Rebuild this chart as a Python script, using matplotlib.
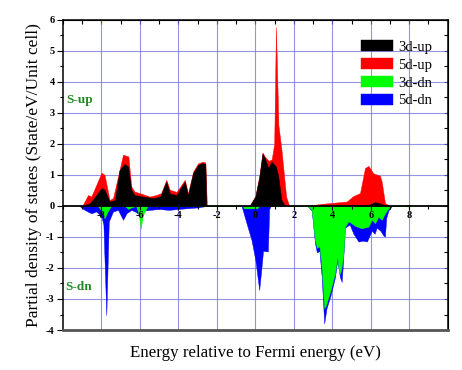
import numpy as np
import matplotlib
matplotlib.use('Agg')
import matplotlib.pyplot as plt
from matplotlib.ticker import MultipleLocator

# spin-up, 3d (black)
e_3d_up = [-9.0, -8.6, -8.27, -8.0, -7.84, -7.58, -7.3, -7.06, -6.8, -6.62, -6.45, -6.28,
           -5.84, -5.3, -4.95, -4.63, -4.45, -4.1, -3.84, -3.67, -3.5, -3.24, -2.98, -2.75, -2.6, -2.55,
           -0.3, 0.0, 0.2, 0.37, 0.49, 0.67, 0.84, 1.07, 1.19, 1.36, 1.54,
           5.6, 6.0, 6.22, 6.5, 6.8]
dos_3d_up = [0.0, 0.09, 0.35, 0.57, 0.52, 0.14, 0.19, 1.16, 1.35, 1.27, 0.52, 0.35,
             0.3, 0.25, 0.3, 0.78, 0.4, 0.35, 0.62, 0.78, 0.35, 1.05, 1.32, 1.38, 1.35, 0.0,
             0.0, 0.3, 0.9, 1.68, 1.54, 1.22, 1.43, 1.27, 0.95, 0.19, 0.0,
             0.0, 0.06, 0.12, 0.08, 0.0]

# spin-up, 5d (red)
e_5d_up = [-9.0, -8.7, -8.53, -8.0, -7.84, -7.58, -7.4, -6.88, -6.6, -6.45, -6.28, -6.0,
           -5.5, -5.15, -4.9, -4.63, -4.45, -4.1, -3.84, -3.67, -3.5, -3.24, -2.98, -2.75, -2.6, -2.52,
           -0.3, 0.0, 0.2, 0.37, 0.5, 0.7, 0.85, 0.98, 1.07, 1.2, 1.36, 1.6, 1.76,
           2.7, 3.36, 4.05, 4.75, 5.1, 5.44, 5.7, 5.88, 6.13, 6.48, 6.57, 6.74, 7.0, 8.0, 8.1]
dos_5d_up = [0.0, 0.35, 0.3, 1.07, 1.0, 0.19, 0.25, 1.65, 1.59, 0.62, 0.46, 0.41,
             0.3, 0.35, 0.41, 0.84, 0.52, 0.45, 0.68, 0.84, 0.4, 1.1, 1.37, 1.42, 1.4, 0.0,
             0.0, 0.32, 0.95, 1.72, 1.58, 1.45, 1.5, 2.0, 5.76, 2.6, 1.8, 0.3, 0.0,
             0.0, 0.06, 0.1, 0.14, 0.32, 0.41, 1.22, 1.29, 1.05, 0.97, 0.78, 0.09, 0.0, 0.02, 0.0]

# spin-down, 5d (blue)
e_5d_dn = [-9.15, -8.88, -8.53, -8.27, -8.0, -7.9, -7.75, -7.62, -7.4, -7.14, -6.88, -6.7,
           -6.45, -6.2, -6.0, -5.8, -5.5, -5.0, -4.5, -4.0, -3.0, -2.5,
           -0.72, -0.46, -0.2, 0.0, 0.2, 0.3, 0.4, 0.65, 0.72, 0.8,
           2.7, 2.93, 3.1, 3.2, 3.33, 3.45, 3.58, 3.7, 3.9, 4.14, 4.26, 4.4, 4.49, 4.57, 4.66,
           4.9, 5.1, 5.36, 5.6, 5.8, 6.05, 6.2, 6.31, 6.5, 6.65, 6.74, 6.8, 6.92, 7.1]
dos_5d_dn = [0.0, -0.13, -0.24, -0.18, -0.35, -0.6, -3.52, -0.5, -0.18, -0.13, -0.45, -0.24,
             -0.13, -0.2, -0.3, -0.15, -0.13, -0.1, -0.13, -0.1, -0.05, 0.0,
             0.0, -0.56, -1.1, -1.74, -2.71, -2.1, -1.45, -1.47, -0.1, 0.0,
             0.0, -0.15, -1.2, -1.5, -1.45, -2.3, -3.79, -3.3, -2.9, -2.3, -1.75, -2.3, -2.45, -1.7, -0.7,
             -0.6, -0.9, -1.15, -1.12, -1.15, -0.8, -0.9, -0.7, -0.8, -0.95, -0.99, -0.4, -0.15, 0.0]

# spin-down, 3d (green)
e_3d_dn = [-8.2, -8.0, -7.84, -7.7, -7.5, -6.8, -6.6, -6.45, -6.2, -6.05, -5.96, -5.85, -5.6,
           -0.65, -0.6, 0.1, 0.2,
           2.7, 2.93, 3.1, 3.2, 3.33, 3.45, 3.58, 3.67, 3.89, 4.14, 4.26, 4.37, 4.45, 4.57, 4.66,
           4.84, 5.0, 5.2, 5.53, 5.88, 6.05, 6.22, 6.4, 6.57, 6.74, 6.92, 7.05, 8.0, 8.1]
dos_3d_dn = [0.0, -0.15, -0.4, -0.2, 0.0, 0.0, -0.1, -0.05, 0.0, -0.3, -0.73, -0.3, 0.0,
             0.0, -0.08, -0.08, 0.0,
             0.0, -0.12, -1.1, -1.35, -1.3, -2.0, -3.3, -3.2, -2.76, -2.17, -1.63, -2.2, -2.1, -1.6, -0.67,
             -0.5, -0.56, -0.65, -0.72, -0.67, -0.45, -0.56, -0.35, -0.45, -0.24, -0.08, 0.0, -0.02, 0.0]

series = [
    (e_5d_up, dos_5d_up, '#ff0000', '5d-up'),
    (e_3d_up, dos_3d_up, '#000000', '3d-up'),
    (e_5d_dn, dos_5d_dn, '#0000ff', '5d-dn'),
    (e_3d_dn, dos_3d_dn, '#00ff00', '3d-dn'),
]
legend_order = ['3d-up', '5d-up', '3d-dn', '5d-dn']

serif = 'Liberation Serif'

fig = plt.figure(figsize=(4.62, 3.70), dpi=100)
ax = fig.add_axes([0.1364, 0.108, 0.8326, 0.839])
ax.set_axisbelow(False)

handles = {}
for e, d, c, name in series:
    handles[name] = ax.fill_between(e, d, 0, color=c, linewidth=0.3, edgecolor=c, zorder=2)

ax.set_xlim(-10, 10)
ax.set_ylim(-4, 6)

# grid
for gx in range(-8, 9, 2):
    ax.axvline(gx, color='#7070e0', lw=0.8, alpha=0.75, zorder=1)
for gy in [-3, -2, -1, 1, 2, 3, 4, 5]:
    ax.axhline(gy, color='#7070e0', lw=0.8, alpha=0.75, zorder=1)

# x axis sits on the zero line
ax.spines['bottom'].set_position(('data', 0))
ax.spines['bottom'].set_linewidth(1.3)
ax.plot([0, 1], [0, 0], transform=ax.transAxes, color='#555555', lw=2.0, clip_on=False, zorder=5)
for s in ['left', 'top', 'right']:
    ax.spines[s].set_linewidth(1.1)

ax.xaxis.set_major_locator(MultipleLocator(2))
ax.xaxis.set_minor_locator(MultipleLocator(1))
ax.yaxis.set_major_locator(MultipleLocator(1))
ax.yaxis.set_minor_locator(MultipleLocator(0.5))
ax.tick_params(axis='x', which='major', direction='out', length=3, width=0.8, pad=1)
ax.tick_params(axis='x', which='minor', direction='out', length=2, width=0.8)
ax.tick_params(axis='y', which='major', direction='out', length=4, width=0.8, pad=2)
ax.tick_params(axis='y', which='minor', direction='out', length=2.5, width=0.8)

xt = [-8, -6, -4, -2, 0, 2, 4, 6, 8]
ax.set_xticks(xt)
ax.set_xticklabels([str(v) for v in xt])
yt = [-4, -3, -2, -1, 0, 1, 2, 3, 4, 5, 6]
ax.set_yticks(yt)
ax.set_yticklabels([str(v) for v in yt])
for lab in ax.get_xticklabels() + ax.get_yticklabels():
    lab.set_fontfamily(serif)
    lab.set_fontweight('bold')
    lab.set_fontsize(7.5)

# inward ticks on top and right
top = ax.secondary_xaxis('top')
top.xaxis.set_major_locator(MultipleLocator(2))
top.xaxis.set_minor_locator(MultipleLocator(1))
top.tick_params(which='both', direction='in', length=3, width=0.8, labeltop=False)
right = ax.secondary_yaxis('right')
right.yaxis.set_major_locator(MultipleLocator(1))
right.yaxis.set_minor_locator(MultipleLocator(0.5))
right.tick_params(which='both', direction='in', length=3, width=0.8, labelright=False)

ax.set_ylabel('Partial density of states (State/eV/Unit cell)', family=serif, fontsize=12.5, labelpad=3)
fig.text(0.553, 0.046, 'Energy relative to Fermi energy (eV)', family=serif, fontsize=12.2,
         ha='center', va='center')

ax.text(-9.85, 3.4, 'S-up', color='#1f8a1f', family=serif, fontweight='bold', fontsize=9.5,
        va='center', ha='left')
ax.text(-9.9, -2.6, 'S-dn', color='#1f8a1f', family=serif, fontweight='bold', fontsize=9.5,
        va='center', ha='left')

ax.legend([handles[n] for n in legend_order], legend_order, loc='upper left',
          bbox_to_anchor=(0.775, 0.935), frameon=False, prop={'family': serif, 'size': 10.5},
          handlelength=2.2, handleheight=0.85, labelspacing=0.28, handletextpad=0.35,
          borderpad=0, borderaxespad=0)

fig.savefig('out.png', dpi=100)
